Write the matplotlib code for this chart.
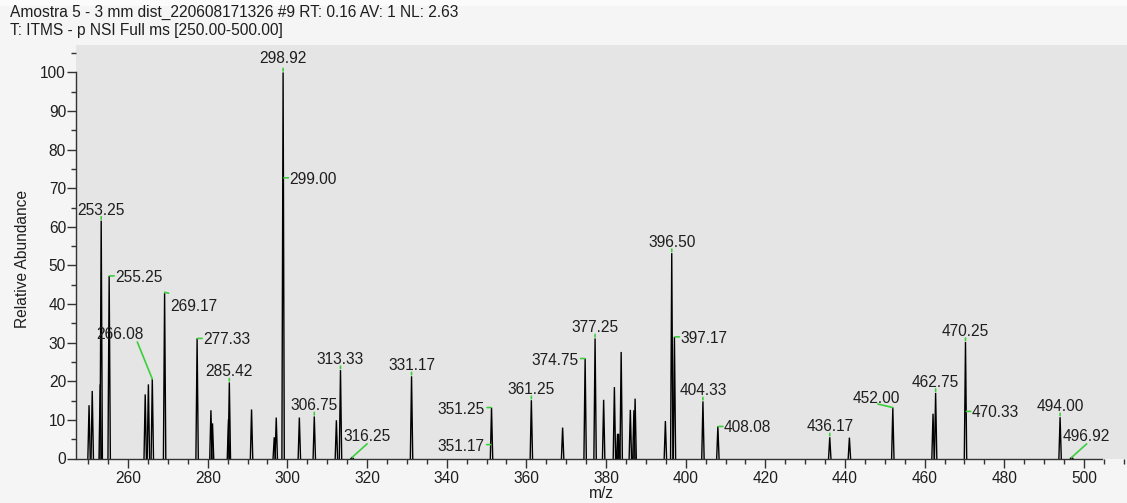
import matplotlib.pyplot as plt
from matplotlib.ticker import MultipleLocator
from matplotlib.transforms import offset_copy
from matplotlib.patches import Rectangle

plt.rcParams['font.family'] = ['Liberation Sans', 'DejaVu Sans']

# profile peaks (m/z, relative abundance)
peak_mz = [250.2, 251.0, 253.0, 253.25, 255.25, 264.3, 265.1, 266.08, 269.17, 277.33,
           280.8, 281.2, 285.2, 285.42, 291.0, 296.7, 297.2, 298.92, 303.0, 306.75,
           312.3, 313.33, 316.25, 331.17, 351.25, 361.25, 369.1, 374.75, 377.25, 379.4,
           382.1, 382.9, 383.2, 383.8, 386.1, 387.0, 387.3, 394.9, 396.50, 397.17,
           404.33, 408.08, 436.17, 441.1, 452.00, 462.1, 462.75, 470.25, 494.00, 496.92]
peak_int = [13.8, 17.5, 19.2, 61.6, 47.3, 16.6, 19.2, 20.6, 42.8, 31.1,
            12.5, 9.1, 10.1, 19.7, 12.7, 5.5, 10.6, 100.0, 10.6, 10.9,
            9.9, 22.9, 0.3, 21.3, 13.2, 15.1, 8.0, 25.9, 31.1, 15.2,
            18.5, 6.4, 6.4, 27.6, 12.6, 12.5, 15.5, 9.7, 53.2, 31.5,
            14.8, 8.3, 5.5, 5.4, 13.2, 11.6, 17.0, 30.2, 10.7, 0.3]

# labelled points
label_mz = [253.25, 255.25, 266.08, 269.17, 277.33, 285.42, 298.92, 299.00, 306.75, 313.33,
            316.25, 331.17, 351.25, 351.17, 361.25, 374.75, 377.25, 396.50, 397.17, 404.33,
            408.08, 436.17, 452.00, 462.75, 470.25, 470.33, 494.00, 496.92]
label_int = [61.6, 47.3, 20.6, 42.8, 31.1, 19.7, 100.0, 72.7, 10.9, 22.9,
             0.3, 21.3, 13.2, 3.6, 15.1, 25.9, 31.1, 53.2, 31.5, 14.8,
             8.3, 5.5, 13.2, 17.0, 30.2, 12.2, 10.7, 0.3]

# label placement in pixels: text dx, dy, ha, green line (x0, y0, x1, y1)
TOP = (0, 12, 'center', (0, 1.5, 0, 4))
RIGHT = (6, 0, 'left', (0.5, 0, 5, 0))
LEFT = (-7, 0, 'right', (-4.5, 0, -0.5, 0))
place = {
    266.08: (-32, 46, 'center', (0, 0, -15, 37)),
    269.17: (6, -12, 'left', (0, 1, 4, 0)),
    298.92: (0, 15, 'center', (0, 1.5, 0, 4)),
    316.25: (15, 22, 'center', (0, 0, 15, 13.5)),
    452.00: (-16, 11, 'center', (0, 0, -15, 3.5)),
    496.92: (15, 22, 'center', (0, 0, 15, 13.5)),
}
for m in [255.25, 277.33, 299.00, 397.17, 408.08, 470.33]:
    place[m] = RIGHT
for m in [351.25, 351.17, 374.75]:
    place[m] = LEFT

green = '#3ccf3c'
txt = '#1e1e1e'
fs = 11.2

fig = plt.figure(figsize=(11.27, 5.03), dpi=100)
fig.patch.set_facecolor('#f5f5f5')
# thin lighter strip along the top edge
fig.patches.append(Rectangle((0, 1 - 6 / 503), 1, 6 / 503, transform=fig.transFigure,
                             facecolor='#fbfbfb', edgecolor='none'))
ax = fig.add_axes([76.5 / 1127, (503 - 458.5) / 503, (1127 - 76.5) / 1127, (458.5 - 45) / 503])
ax.set_facecolor('#e5e5e5')

w = 0.3
for m, h in zip(peak_mz, peak_int):
    ax.plot([m - w, m, m + w], [0, h, 0], color='black', lw=1.0, solid_joinstyle='miter')

for m, h in zip(label_mz, label_int):
    dx, dy, ha, (x0, y0, x1, y1) = place.get(m, TOP)
    ax.annotate('%.2f' % m, xy=(m, h), xytext=(dx, dy), textcoords='offset pixels',
                ha=ha, va='center_baseline', fontsize=fs, color=txt)
    start = offset_copy(ax.transData, fig=fig, x=x0, y=y0, units='dots')
    ax.annotate('', xy=(m, h), xycoords=start, xytext=(x1 - x0, y1 - y0),
                textcoords='offset pixels',
                arrowprops=dict(arrowstyle='-', color=green, lw=1.2, shrinkA=0, shrinkB=0))

ax.set_xlim(247.05, 510.8)
ax.set_ylim(0, 107.1)
ax.spines['top'].set_visible(False)
ax.spines['right'].set_visible(False)
ax.spines['left'].set_bounds(0, 100)
ax.spines['bottom'].set_bounds(247.05, 504.5)
for s in ['left', 'bottom']:
    ax.spines[s].set_color('#333333')
    ax.spines[s].set_linewidth(1.0)

ax.xaxis.set_major_locator(MultipleLocator(20))
ax.xaxis.set_minor_locator(MultipleLocator(5))
ax.yaxis.set_major_locator(MultipleLocator(10))
ax.yaxis.set_minor_locator(MultipleLocator(5))
ax.set_xticks([t for t in range(260, 501, 20)])
ax.tick_params(which='major', length=6.5, width=1.0, color='#333333', direction='out')
ax.tick_params(which='minor', length=3.6, width=1.0, color='#333333', direction='out')
ax.tick_params(labelsize=fs, labelcolor=txt, pad=1)
ax.tick_params(axis='x', pad=2.5)

ax.set_xlabel('m/z', fontsize=fs, color=txt, labelpad=0)
ax.set_ylabel('Relative Abundance', fontsize=fs, color=txt)
ax.yaxis.set_label_coords((30.5 - 76.5) / 1050.5, (458.5 - 258.7) / 413.5)

fig.text(10 / 1127, 1 - 12 / 503, 'Amostra 5 - 3 mm dist_220608171326 #9 RT: 0.16 AV: 1 NL: 2.63',
         fontsize=fs, color=txt, va='center', ha='left')
fig.text(10 / 1127, 1 - 31 / 503, 'T: ITMS - p NSI Full ms [250.00-500.00]',
         fontsize=fs, color=txt, va='center', ha='left')

fig.savefig('out.png', dpi=100, facecolor=fig.get_facecolor())
